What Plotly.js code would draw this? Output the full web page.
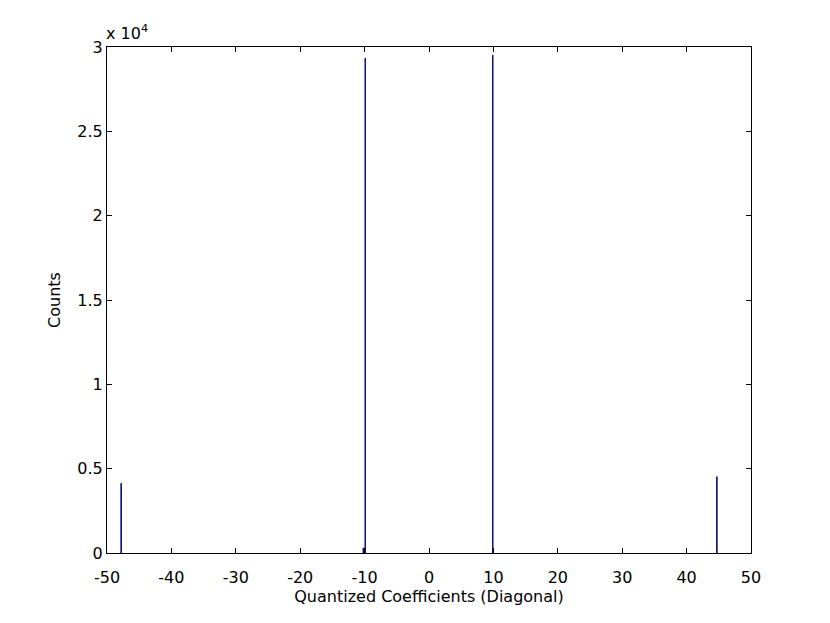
<!DOCTYPE html>
<html>
<head>
<meta charset="utf-8">
<script src="https://cdn.plot.ly/plotly-3.0.1.min.js"></script>
<style>
  body { margin: 0; background: #fff; }
  #hist { width: 830px; height: 623px; }
</style>
</head>
<body>
<div id="hist"></div>
<script>
// histogram of quantized diagonal coefficients
const coeffs = [-47.8, -10.2, -9.9, 9.9, 44.7];
const counts = [4130, 300, 29340, 29520, 4520];

const yTickVals = [0, 5000, 10000, 15000, 20000, 25000, 30000];
const yTickText = ['0', '0.5', '1', '1.5', '2', '2.5', '3'];
const xTickVals = [-50, -40, -30, -20, -10, 0, 10, 20, 30, 40, 50];
const xTickText = ['-50', '-40', '-30', '-20', '-10', '0', '10', '20', '30', '40', '50'];

const FONT = 'DejaVu Sans, Verdana, sans-serif';
const NAVY = '#10107a';

const trace = {
    x: coeffs,
    y: counts,
    type: 'bar',
    width: 0.08,
    marker: { color: NAVY, line: { width: 1, color: NAVY } },
    hoverinfo: 'x+y'
};

const axisStyle = {
    showline: true,
    linecolor: '#000',
    linewidth: 1,
    mirror: 'allticks',
    ticks: 'inside',
    ticklen: 5,
    tickcolor: '#000',
    showgrid: false,
    zeroline: false,
    tickfont: { family: FONT, size: 16, color: '#000' }
};

const layout = {
    width: 830,
    height: 623,
    margin: { l: 107, r: 79, t: 47, b: 70 },
    paper_bgcolor: '#fff',
    plot_bgcolor: '#fff',
    showlegend: false,
    bargap: 0,
    font: { family: FONT, size: 16, color: '#000' },
    xaxis: Object.assign({}, axisStyle, {
        range: [-50, 50],
        tickvals: xTickVals,
        ticktext: xTickText,
        ticklabelstandoff: 10,
        title: { text: 'Quantized Coefficients (Diagonal)', standoff: 2, font: { size: 16 } }
    }),
    yaxis: Object.assign({}, axisStyle, {
        range: [0, 30000],
        tickvals: yTickVals,
        ticktext: yTickText,
        title: { text: 'Counts', standoff: 12, font: { size: 16 } }
    }),
    annotations: [{
        xref: 'paper', yref: 'paper',
        x: 0, y: 1,
        xanchor: 'left', yanchor: 'bottom',
        xshift: -3,
        yshift: 2,
        showarrow: false,
        text: 'x 10<sup>4</sup>',
        font: { size: 16 }
    }]
};

Plotly.newPlot('hist', [trace], layout, { displayModeBar: false, staticPlot: true });
</script>
</body>
</html>
